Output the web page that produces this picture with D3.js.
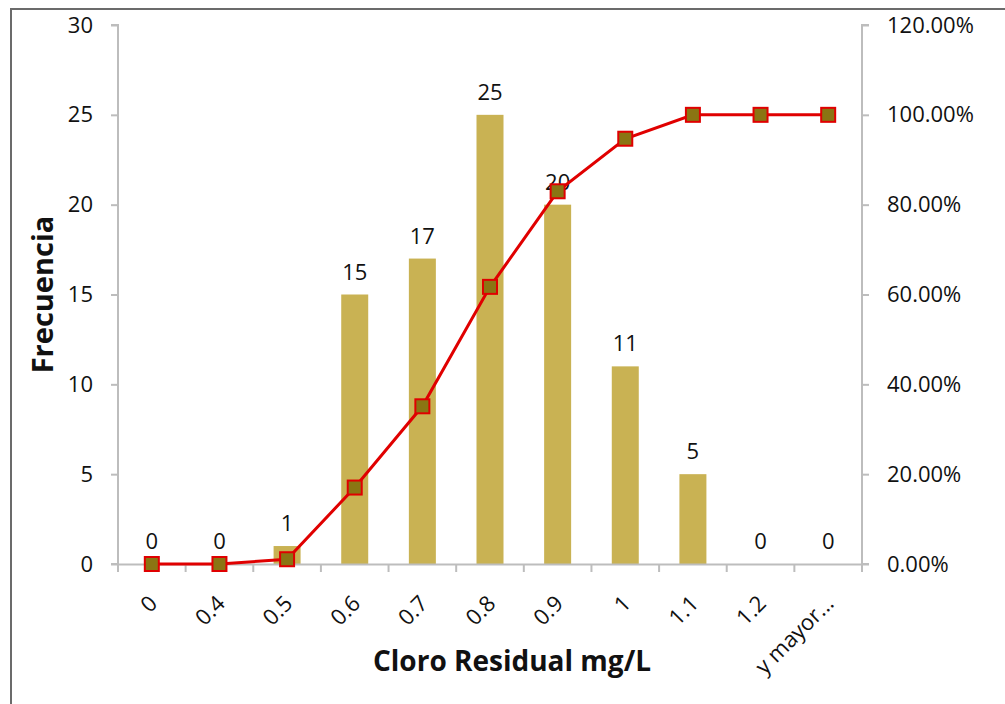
<!DOCTYPE html>
<html lang="es">
<head>
  <meta charset="UTF-8">
  <title>Cloro Residual</title>
</head>
<body style="margin:0;background:#fff">
<script src="https://d3js.org/d3.v7.min.js"></script>
<script>
  // datos
  const categorias = ["0", "0.4", "0.5", "0.6", "0.7", "0.8", "0.9", "1", "1.1", "1.2", "y mayor..."];
  const frecuencia = [0, 0, 1, 15, 17, 25, 20, 11, 5, 0, 0];
  const acumulado = [0, 0, 1.06, 17.02, 35.11, 61.70, 82.98, 94.68, 100, 100, 100];
  const ticksIzq = [0, 5, 10, 15, 20, 25, 30];
  const ticksDer = [0, 20, 40, 60, 80, 100, 120];

  const W = 1005, H = 704;
  const m = {top: 25, right: 143, bottom: 140, left: 118};
  const font = "'Open Sans', sans-serif";

  const svg = d3.select("body").append("svg")
      .attr("width", W)
      .attr("height", H)
      .style("display", "block");

  // marco del grafico
  svg.append("path")
      .attr("d", "M11," + H + "V9H" + W)
      .attr("fill", "none")
      .attr("stroke", "#6b6b6b")
      .attr("stroke-width", 2);

  const x = d3.scaleBand()
      .domain(categorias)
      .range([m.left, W - m.right]);

  const y = d3.scaleLinear()
      .domain([0, 30])
      .range([H - m.bottom, m.top]);

  const y2 = d3.scaleLinear()
      .domain([0, 120])
      .range([H - m.bottom, m.top]);

  const barW = 27;

  // barras
  svg.append("g")
    .selectAll("rect")
    .data(frecuencia)
    .join("rect")
      .attr("x", (d, i) => x(categorias[i]) + x.bandwidth() / 2 - barW / 2)
      .attr("y", d => y(d))
      .attr("width", barW)
      .attr("height", d => y(0) - y(d))
      .attr("fill", "#c9b253");

  // ejes
  const ejeIzq = svg.append("g")
      .attr("transform", "translate(" + m.left + ",0)")
      .call(d3.axisLeft(y).tickValues(ticksIzq).tickSize(7).tickPadding(18));

  const ejeDer = svg.append("g")
      .attr("transform", "translate(" + (W - m.right) + ",0)")
      .call(d3.axisRight(y2).tickValues(ticksDer).tickSize(7).tickPadding(18)
        .tickFormat(d => d.toFixed(2) + "%"));

  const ejeX = svg.append("g")
      .attr("transform", "translate(0," + (H - m.bottom) + ")")
      .call(d3.axisBottom(x).tickSize(0).tickFormat(""));

  // marcas entre categorias
  ejeX.selectAll("line.sep")
    .data(d3.range(categorias.length + 1))
    .join("line")
      .attr("class", "sep")
      .attr("x1", i => m.left + i * x.step())
      .attr("x2", i => m.left + i * x.step())
      .attr("y1", 0)
      .attr("y2", 8)
      .attr("stroke", "#bdbdbd")
      .attr("stroke-width", 2);

  [ejeIzq, ejeDer, ejeX].forEach(g => {
    g.select(".domain").attr("stroke", "#bdbdbd").attr("stroke-width", 2);
    g.selectAll(".tick line").attr("stroke", "#bdbdbd").attr("stroke-width", 2);
    g.selectAll("text")
      .attr("font-family", font)
      .attr("font-size", 22)
      .attr("fill", "#111");
  });
  ejeIzq.select(".domain").attr("d", "M-7," + y(30) + "H0V" + y(0) + "H-7");
  ejeDer.select(".domain").attr("d", "M7," + y2(120) + "H0V" + y2(0) + "H7");

  // etiquetas inclinadas del eje x
  svg.append("g")
    .selectAll("text")
    .data(categorias)
    .join("text")
      .attr("transform", d => "translate(" + (x(d) + x.bandwidth() / 2 - 4) + "," + (H - m.bottom + 30) + ") rotate(-45)")
      .attr("text-anchor", "end")
      .attr("dy", "0.7em")
      .attr("font-family", font)
      .attr("font-size", 22)
      .attr("fill", "#111")
      .text(d => d);

  // valores sobre las barras
  svg.append("g")
    .selectAll("text")
    .data(frecuencia)
    .join("text")
      .attr("x", (d, i) => x(categorias[i]) + x.bandwidth() / 2)
      .attr("y", d => y(d) - 15)
      .attr("text-anchor", "middle")
      .attr("font-family", font)
      .attr("font-size", 22)
      .attr("fill", "#111")
      .text(d => d);

  // linea acumulada
  const linea = d3.line()
      .x((d, i) => x(categorias[i]) + x.bandwidth() / 2)
      .y(d => y2(d));

  svg.append("path")
      .datum(acumulado)
      .attr("d", linea)
      .attr("fill", "none")
      .attr("stroke", "#e00000")
      .attr("stroke-width", 3);

  const s = 14;
  svg.append("g")
    .selectAll("rect")
    .data(acumulado)
    .join("rect")
      .attr("x", (d, i) => x(categorias[i]) + x.bandwidth() / 2 - s / 2)
      .attr("y", d => y2(d) - s / 2)
      .attr("width", s)
      .attr("height", s)
      .attr("fill", "#8a7513")
      .attr("stroke", "#e00000")
      .attr("stroke-width", 2);

  // titulos de ejes
  svg.append("text")
      .attr("transform", "translate(53," + ((y(0) + y(30)) / 2) + ") rotate(-90)")
      .attr("text-anchor", "middle")
      .attr("font-family", font)
      .attr("font-size", 29)
      .attr("font-weight", "bold")
      .attr("fill", "#111")
      .text("Frecuencia");

  svg.append("text")
      .attr("x", 512)
      .attr("y", 671)
      .attr("text-anchor", "middle")
      .attr("font-family", font)
      .attr("font-size", 28)
      .attr("font-weight", "bold")
      .attr("fill", "#111")
      .text("Cloro Residual mg/L");
</script>
</body>
</html>
